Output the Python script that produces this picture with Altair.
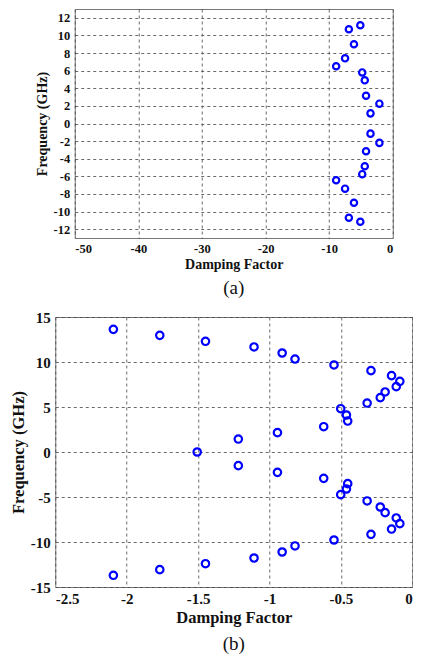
import altair as alt
import pandas as pd

# Panel (a)
a_damping = [-5.1, -6.9, -6.1, -7.5, -8.9, -4.8, -4.4, -4.2, -2.1, -3.5,
             -3.5, -2.1, -4.2, -4.4, -4.8, -8.9, -7.5, -6.1, -6.9, -5.1]
a_freq = [11.15, 10.7, 9.0, 7.4, 6.5, 5.8, 4.9, 3.15, 2.25, 1.15,
          -1.15, -2.2, -3.15, -4.85, -5.75, -6.45, -7.4, -9.0, -10.7, -11.15]

# Panel (b)
b_damping = [-2.093, -1.768, -1.448, -1.108, -0.911, -0.821, -0.548, -0.289, -0.145, -0.087,
             -0.112, -0.190, -0.224, -0.316, -0.501, -0.461, -0.452, -0.620, -0.944, -1.218,
             -1.506,
             -1.218, -0.944, -0.620, -0.452, -0.461, -0.501, -0.316, -0.224, -0.190, -0.112,
             -0.087, -0.145, -0.289, -0.548, -0.821, -0.911, -1.108, -1.448, -1.768, -2.093]
b_freq = [13.63, 12.96, 12.30, 11.67, 11.0, 10.33, 9.67, 9.04, 8.48, 7.85,
          7.26, 6.67, 6.04, 5.44, 4.81, 4.11, 3.44, 2.81, 2.15, 1.44,
          0.0,
          -1.52, -2.26, -2.93, -3.52, -4.11, -4.74, -5.44, -6.11, -6.74, -7.33,
          -7.96, -8.56, -9.15, -9.78, -10.44, -11.11, -11.78, -12.41, -13.07, -13.7]

a_xticks = [-50, -40, -30, -20, -10, 0]
a_yticks = [-12, -10, -8, -6, -4, -2, 0, 2, 4, 6, 8, 10, 12]
b_xticks = [-2.5, -2, -1.5, -1, -0.5, 0]
b_yticks = [-15, -10, -5, 0, 5, 10, 15]

FONT = "Liberation Serif"
BLUE = "#0000ff"


def axis(values, label_size, title_size, title_pad, label_pad):
    return alt.Axis(
        values=values,
        labelExpr="datum.value + ''",
        labelFont=FONT, labelFontWeight="bold", labelFontSize=label_size, labelColor="#111",
        titleFont=FONT, titleFontWeight="bold", titleFontSize=title_size, titleColor="#111",
        titlePadding=title_pad,
        grid=True, gridDash=[3, 3], gridColor="#444", gridWidth=0.8, gridOpacity=1,
        domain=False, ticks=False, tickSize=0, labelPadding=label_pad,
    )


def panel(xs, ys, xdom, ydom, xt, yt, w, h, caption, size, lsize, tsize, left_ext, cap_off):
    df = pd.DataFrame({"x": xs, "y": ys})
    pts = alt.Chart(df).mark_point(
        shape="circle", filled=False, color=BLUE, strokeWidth=2.2, size=size, opacity=1
    ).encode(
        x=alt.X("x:Q", scale=alt.Scale(domain=xdom, nice=False, zero=False),
                axis=axis(xt, lsize, tsize, 3, 4), title="Damping Factor"),
        y=alt.Y("y:Q", scale=alt.Scale(domain=ydom, nice=False, zero=False),
                axis=axis(yt, lsize, tsize, 4, 5), title="Frequency (GHz)"),
    )
    # invisible spacer that sets the panel's left extent
    spacer = alt.Chart(df.head(1)).mark_rule(opacity=0, strokeWidth=0.01).encode(
        x=alt.value(-left_ext), y=alt.value(0), y2=alt.value(5)
    )
    return alt.layer(pts, spacer).properties(
        width=w, height=h,
        title=alt.TitleParams(caption, orient="bottom", anchor="middle", frame="group",
                              font=FONT, fontSize=19, fontWeight="normal", color="#111",
                              offset=cap_off),
    )


pa = panel(a_damping, a_freq, [-50, 0], [-13, 13], a_xticks, a_yticks, 318, 229,
           "(a)", 40, 12.5, 14, 56, 7)
pb = panel(b_damping, b_freq, [-2.5, 0], [-15, 15], b_xticks, b_yticks, 357, 270,
           "(b)", 55, 15, 16.5, 46, 9)

chart = alt.vconcat(pa, pb, spacing=11, center=True).configure_view(
    stroke="#777", strokeWidth=1
).properties(padding={"top": 0, "left": 0, "right": 0, "bottom": 0})

chart.save("out.html", embed_options={"renderer": "svg", "actions": False})
